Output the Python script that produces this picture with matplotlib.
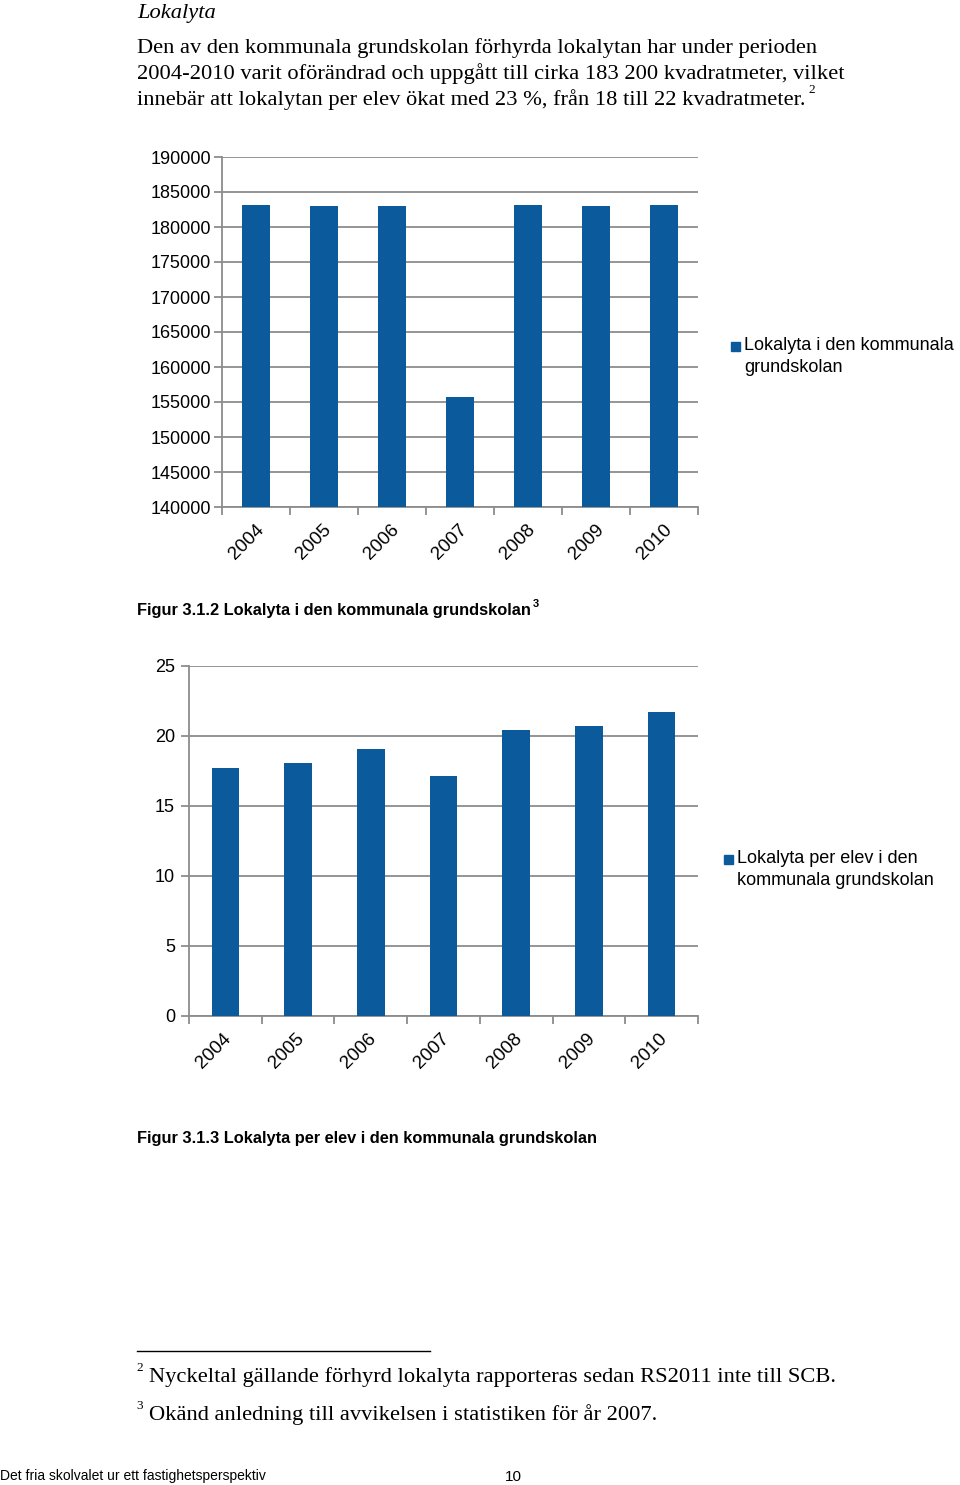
import matplotlib
matplotlib.use("Agg")
import matplotlib.pyplot as plt
from matplotlib.patches import Rectangle
from matplotlib.lines import Line2D
from matplotlib.transforms import offset_copy

years = ["2004", "2005", "2006", "2007", "2008", "2009", "2010"]
lokalyta = [183160, 183020, 182970, 155730, 183110, 183070, 183110]
per_elev = [17.70, 18.10, 19.07, 17.11, 20.43, 20.71, 21.73]

BLUE = "#0A5A9C"
GRID = "#8C8C8C"
W, H = 960, 1485
SANS = ["Liberation Sans", "DejaVu Sans"]
SERIF = ["Liberation Serif", "DejaVu Serif"]

plt.rcParams["font.family"] = SANS

fig = plt.figure(figsize=(W / 100, H / 100), dpi=100)


def fx(px):
    return px / W


def fy(py):
    return 1 - py / H


def bar_chart(rect, values, ylim, ystep, width, ypad, xshift):
    ax = fig.add_axes(rect)
    x = list(range(len(values)))
    ax.bar(x, values, width=width, color=BLUE, zorder=3)
    ax.set_ylim(*ylim)
    ax.set_xlim(-0.5, len(values) - 0.5)
    ax.set_yticks(list(range(ylim[0], ylim[1] + 1, ystep)))
    ax.yaxis.grid(True, color=GRID, linewidth=1.3, zorder=0)
    for s in ("top", "right"):
        ax.spines[s].set_visible(False)
    for s in ("left", "bottom"):
        ax.spines[s].set_color(GRID)
        ax.spines[s].set_linewidth(1.3)
    ax.tick_params(axis="y", direction="out", length=6, width=1.3, color=GRID,
                   labelsize=13, pad=ypad)
    ax.set_xticks(x)
    ax.set_xticklabels(years, rotation=45, ha="right", rotation_mode="anchor",
                       fontsize=13.5)
    ax.tick_params(axis="x", which="major", length=0, pad=10)
    ax.set_xticks([i - 0.5 for i in range(len(values) + 1)], minor=True)
    ax.tick_params(axis="x", which="minor", direction="out", length=6,
                   width=1.3, color=GRID)
    for lab in ax.get_xticklabels():
        lab.set_transform(offset_copy(lab.get_transform(), fig=fig, x=xshift,
                                      y=0, units="dots"))
    return ax


def legend_item(px, py, lines):
    # py is the centre of the first text line
    fig.patches.append(Rectangle((fx(px), fy(py + 5)), 9 / W, 9 / H,
                                 transform=fig.transFigure, color=BLUE))
    fig.text(fx(px + 13), fy(py - 9), lines, fontsize=13, va="top", ha="left",
             linespacing=1.35)


# heading text
fig.text(fx(137), fy(18), "Lokalyta", family=SERIF, style="italic",
         fontsize=16.2, va="baseline")
body = ["Den av den kommunala grundskolan förhyrda lokalytan har under perioden",
        "2004-2010 varit oförändrad och uppgått till cirka 183 200 kvadratmeter, vilket",
        "innebär att lokalytan per elev ökat med 23 %, från 18 till 22 kvadratmeter."]
tl = None
for i, line in enumerate(body):
    tl = fig.text(fx(137), fy(53 + 26 * i), line, family=SERIF, fontsize=16.2,
                  va="baseline")
r = fig.canvas.get_renderer()
bb = tl.get_window_extent(renderer=r)
fig.text(bb.x1 / W + 3 / W, fy(84), "2", family=SERIF, fontsize=9.5,
         va="top")

# chart 1
ax1 = bar_chart([fx(222), fy(507), 476 / W, 350 / H], lokalyta,
                (140000, 190000), 5000, 0.4, 1.8, -1)
legend_item(731, 346, "Lokalyta i den kommunala\ngrundskolan")
cap1 = fig.text(fx(137), fy(615), "Figur 3.1.2 Lokalyta i den kommunala grundskolan",
                fontsize=11.8, weight="bold", va="baseline")
bb = cap1.get_window_extent(renderer=r)
fig.text(bb.x1 / W + 2 / W, fy(599), "3", fontsize=8, weight="bold", va="top")

# chart 2
ax2 = bar_chart([fx(189), fy(1016), 509 / W, 350 / H], per_elev, (0, 25), 5,
                0.38, 4, -3)
legend_item(724, 859, "Lokalyta per elev i den\nkommunala grundskolan")
fig.text(fx(137), fy(1143), "Figur 3.1.3 Lokalyta per elev i den kommunala grundskolan",
         fontsize=11.8, weight="bold", va="baseline")

# footnotes
fig.add_artist(Line2D([fx(137), fx(430)], [fy(1351), fy(1351)],
                      transform=fig.transFigure, color="black", linewidth=1))
fig.text(fx(136), fy(1362), "2", family=SERIF, fontsize=9.5, va="top")
fig.text(fx(149), fy(1382), "Nyckeltal gällande förhyrd lokalyta rapporteras sedan RS2011 inte till SCB.",
         family=SERIF, fontsize=16.2, va="baseline")
fig.text(fx(136), fy(1400), "3", family=SERIF, fontsize=9.5, va="top")
fig.text(fx(149), fy(1420), "Okänd anledning till avvikelsen i statistiken för år 2007.",
         family=SERIF, fontsize=16.2, va="baseline")

# footer
fig.text(fx(0), fy(1480), "Det fria skolvalet ur ett fastighetsperspektiv",
         fontsize=10, va="baseline")
fig.text(fx(505), fy(1481), "10", fontsize=11, va="baseline")

fig.savefig("out.png", dpi=100)
